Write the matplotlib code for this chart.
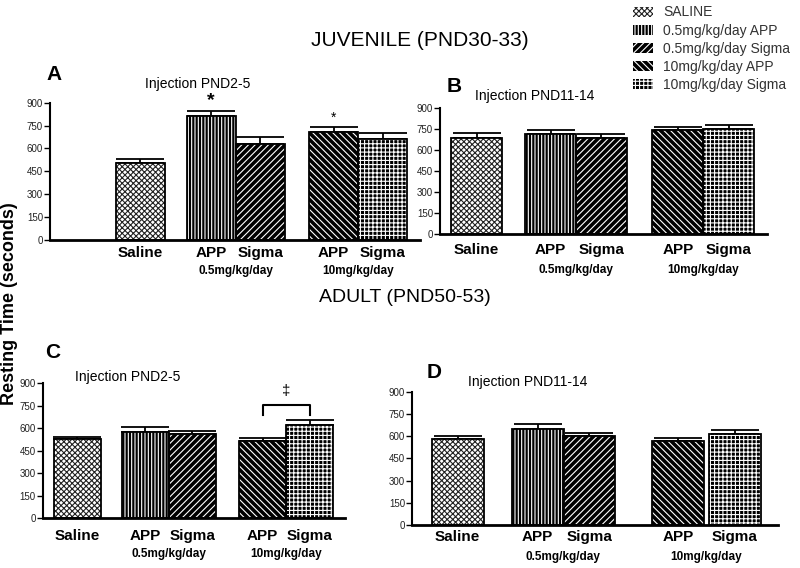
import numpy as np
import matplotlib.pyplot as plt
from matplotlib.patches import Patch

plt.rcParams['font.family'] = ['Liberation Sans', 'DejaVu Sans']
plt.rcParams['hatch.linewidth'] = 0.8

# data (seconds)
groups = ['Saline', 'APP', 'Sigma', 'APP', 'Sigma']
legend_labels = ['SALINE', '0.5mg/kg/day APP', '0.5mg/kg/day Sigma',
                 '10mg/kg/day APP', '10mg/kg/day Sigma']
dose_labels = ['0.5mg/kg/day', '10mg/kg/day']

mean_A = [508, 810, 631, 705, 661]
sem_A = [22, 37, 44, 35, 39]
mean_B = [686, 714, 686, 745, 750]
sem_B = [35, 29, 28, 24, 29]
mean_C = [531, 575, 564, 513, 623]
sem_C = [13, 33, 18, 22, 34]
mean_D = [578, 648, 601, 567, 614]
sem_D = [21, 34, 20, 18, 27]

yticks = [0, 150, 300, 450, 600, 750, 900]

# (face, hatch colour, hatch)
styles = [('white', '#222222', 'xxxxxx'),
          ('black', 'white', '|||||'),
          ('black', 'white', '/////'),
          ('black', 'white', '\\\\\\\\\\'),
          ('black', 'white', '++++')]


def panel(ax, pos, means, sems, xlim, letter, sub, letter_xy, sub_xy,
          lab_off=13, dose_off=31):
    for i in range(5):
        fc, hc, h = styles[i]
        ax.bar(pos[i], means[i], width=1, color=fc, edgecolor=hc,
               hatch=h, linewidth=0, zorder=2)
        ax.bar(pos[i], means[i], width=1, fill=False, edgecolor='black',
               linewidth=1.3, zorder=3)
    ax.errorbar(pos, means, yerr=[np.zeros(5), sems], fmt='none',
                ecolor='black', elinewidth=1.3, capsize=17, capthick=1.3,
                zorder=1)
    ax.set_xlim(*xlim)
    ax.set_ylim(0, 900)
    ax.set_yticks(yticks)
    ax.set_xticks([])
    for s in ['top', 'right']:
        ax.spines[s].set_visible(False)
    ax.spines['left'].set_linewidth(1.5)
    ax.spines['bottom'].set_linewidth(2)
    ax.tick_params(axis='y', labelsize=7, length=4, width=1, pad=1,
                   labelcolor='#222222')
    for i in range(5):
        ax.annotate(groups[i], xy=(pos[i], 0), xycoords=('data', 'axes fraction'),
                    xytext=(0, -lab_off), textcoords='offset pixels',
                    ha='center', va='center', fontsize=11, fontweight='bold')
    for k, (a, b) in enumerate([(1, 2), (3, 4)]):
        ax.annotate(dose_labels[k], xy=((pos[a] + pos[b]) / 2, 0),
                    xycoords=('data', 'axes fraction'),
                    xytext=(0, -dose_off), textcoords='offset pixels',
                    ha='center', va='center', fontsize=8.5, fontweight='bold')
    fig.text(letter_xy[0] / 800, 1 - letter_xy[1] / 568, letter,
             fontsize=15, fontweight='bold', ha='center', va='center')
    fig.text(sub_xy[0] / 800, 1 - sub_xy[1] / 568, sub,
             fontsize=10, ha='left', va='center')


fig = plt.figure(figsize=(8, 5.68), dpi=100)

pos_std = [0, 1.45, 2.45, 3.95, 4.95]
pos_D = [0, 1.54, 2.53, 4.24, 5.33]

axA = fig.add_axes([50 / 800, 1 - 240 / 568, 370 / 800, 137.3 / 568])
panel(axA, pos_std, mean_A, sem_A, (-1.84, 5.71), 'A', 'Injection PND2-5',
      (54, 75), (145, 84))
axB = fig.add_axes([440 / 800, 1 - 234.3 / 568, 327 / 800, 126 / 568])
panel(axB, pos_std, mean_B, sem_B, (-0.72, 5.7), 'B', 'Injection PND11-14',
      (454, 86), (475, 96), lab_off=16, dose_off=36)
axC = fig.add_axes([42.7 / 800, 1 - 518.3 / 568, 302.3 / 800, 135 / 568])
panel(axC, pos_std, mean_C, sem_C, (-0.73, 5.7), 'C', 'Injection PND2-5',
      (53, 352), (75, 377), lab_off=18, dose_off=36)
axD = fig.add_axes([412 / 800, 1 - 525 / 568, 366 / 800, 133.3 / 568])
panel(axD, pos_D, mean_D, sem_D, (-0.875, 6.16), 'D', 'Injection PND11-14',
      (434, 372), (468, 382), lab_off=12, dose_off=32)

# significance marks
axA.text(pos_std[1], mean_A[1] + sem_A[1] + 12, '*', ha='center', va='bottom',
         fontsize=14, fontweight='bold')
axA.text(pos_std[3], mean_A[3] + sem_A[3] + 12, '*', ha='center', va='bottom',
         fontsize=10)
bx = [pos_std[3], pos_std[3], pos_std[4], pos_std[4]]
axC.plot(bx, [689, 755, 755, 689], color='black', lw=1.5, clip_on=False)
axC.text((pos_std[3] + pos_std[4]) / 2, 800, '\u2021', ha='center',
         va='bottom', fontsize=11)

fig.text(420 / 800, 1 - 40 / 568, 'JUVENILE (PND30-33)', fontsize=15,
         ha='center', va='center')
fig.text(405 / 800, 1 - 298 / 568, 'ADULT (PND50-53)', fontsize=14,
         ha='center', va='center')
fig.text(10 / 800, 1 - 304 / 568, 'Resting Time (seconds)', fontsize=13,
         fontweight='bold', rotation=90, ha='center', va='center')

handles = [Patch(facecolor=s[0], edgecolor=s[1], hatch=s[2], linewidth=0)
           for s in styles]
fig.legend(handles, legend_labels, loc='upper left',
           bbox_to_anchor=(620 / 800, 1 + 7 / 568), frameon=False,
           fontsize=10, handlelength=1.45, handleheight=0.7,
           labelspacing=0.3, handletextpad=0.75, labelcolor='#333333')

fig.savefig('out.png', dpi=100)
